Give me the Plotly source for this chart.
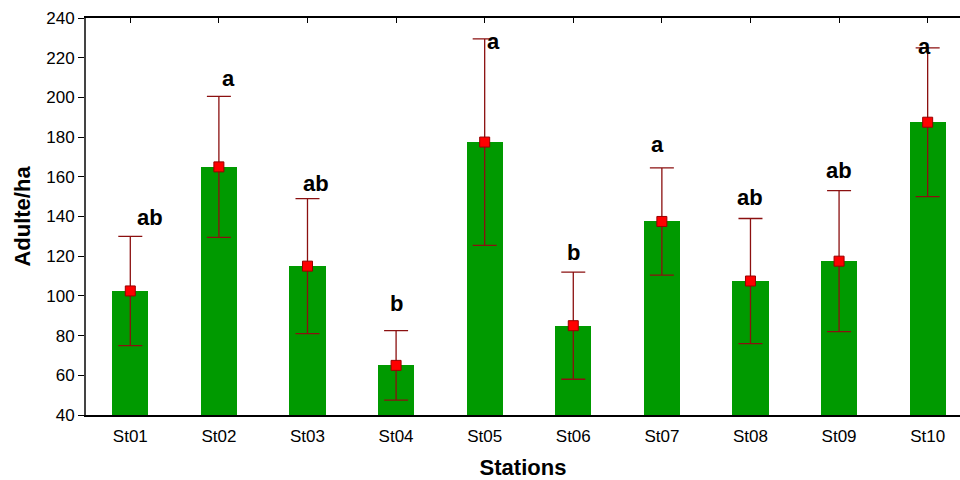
import plotly.graph_objects as go

stations = ["St01", "St02", "St03", "St04", "St05", "St06", "St07", "St08", "St09", "St10"]
means = [102.5, 165, 115, 65, 177.5, 85, 137.5, 107.5, 117.5, 187.5]
upper = [130, 200.5, 149, 82.5, 229.5, 112, 164.5, 139, 153, 225]
lower = [75, 129.5, 81, 47.5, 125.5, 58, 110.5, 76, 82, 150]
letters = ["ab", "a", "ab", "b", "a", "b", "a", "ab", "ab", "a"]
letter_y = [139.7, 209.3, 156.4, 96.4, 228.4, 122, 176.5, 149.8, 163, 225.4]
letter_dx = [20, 10, 9, 0, 9, 0, -4, 0, 0, -3]

err_plus = [u - m for u, m in zip(upper, means)]
err_minus = [m - l for m, l in zip(means, lower)]
xi = list(range(len(stations)))

FONT = "Liberation Sans, Arial, sans-serif"

fig = go.Figure()
fig.add_trace(go.Bar(
    x=xi, y=[m - 40 for m in means], base=40, width=0.41,
    marker=dict(color="#009A00", line=dict(width=0)),
    hoverinfo="skip", showlegend=False,
))
fig.add_trace(go.Scatter(
    x=xi, y=means, mode="markers",
    marker=dict(symbol="square", size=10, color="#FF0000",
                line=dict(color="#990000", width=1)),
    error_y=dict(type="data", symmetric=False, array=err_plus, arrayminus=err_minus,
                 color="#8B1010", thickness=1.3, width=12),
    showlegend=False,
))
# invisible trace for top axis ticks
fig.add_trace(go.Scatter(x=xi, y=means, xaxis="x2", mode="markers",
                         marker=dict(opacity=0), hoverinfo="skip", showlegend=False))

for i, (t, ly, dx) in enumerate(zip(letters, letter_y, letter_dx)):
    fig.add_annotation(x=xi[i], y=ly, text="<b>%s</b>" % t, showarrow=False,
                       xshift=dx, font=dict(family=FONT, size=22, color="black"))

fig.update_layout(
    width=960, height=480,
    margin=dict(l=86, r=0, t=18, b=65),
    plot_bgcolor="white", paper_bgcolor="white",
    bargap=0,
    xaxis=dict(
        range=[-0.5, 9.365], tickmode="array", tickvals=xi, ticktext=stations,
        showgrid=False, zeroline=False, showline=True, linecolor="black", linewidth=2,
        ticks="", ticklabelstandoff=5, tickfont=dict(family=FONT, size=17, color="black"),
        title=dict(text="<b>Stations</b>", font=dict(family=FONT, size=22, color="black"), standoff=19),
    ),
    xaxis2=dict(
        range=[-0.5, 9.365], overlaying="x", side="top", matches=None,
        tickmode="array", tickvals=xi, showticklabels=False,
        ticks="inside", ticklen=5, tickcolor="black", tickwidth=1,
        showline=True, linecolor="black", linewidth=2, showgrid=False, zeroline=False,
    ),
    yaxis=dict(
        range=[40, 240], dtick=20, tick0=40,
        showgrid=False, zeroline=False, showline=True, linecolor="#444444", linewidth=2,
        ticks="outside", ticklen=6, tickcolor="black", tickwidth=1,
        tickfont=dict(family=FONT, size=17, color="black"),
        title=dict(text="<b>Adulte/ha</b>", font=dict(family=FONT, size=22, color="black"), standoff=10),
    ),
)

fig.write_html("out.html")
